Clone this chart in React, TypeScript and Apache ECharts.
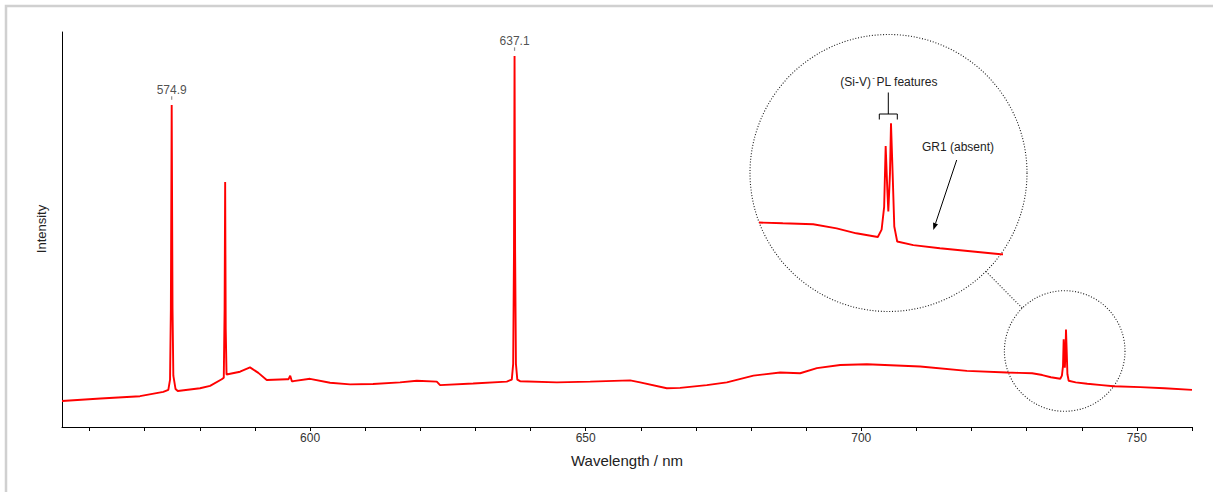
import React, { useEffect, useRef } from 'react';
import * as echarts from 'echarts';

// Spectrum (wavelength in nm, intensity in arbitrary units)
const wavelength = [
  555.0, 562.0, 569.15, 573.38, 574.29, 574.6, 574.75, 574.9, 575.05, 575.2, 575.6, 576.0,
  580.04, 581.86, 583.98, 584.35, 584.5, 584.6, 584.7, 584.85, 587.3, 589.11, 590.62, 592.14,
  595.77, 596.1, 596.4, 596.7, 596.97, 600.0, 603.63, 607.26, 611.43, 616.33, 619.36, 622.99,
  623.59, 629.58, 635.69, 636.6, 636.85, 637.0, 637.1, 637.2, 637.35, 637.6, 638.1, 644.77,
  650.81, 658.07, 659.88, 664.72, 667.14, 671.98, 675.61, 680.44, 685.28, 688.91, 691.95,
  696.18, 701.02, 710.69, 719.16, 726.42, 728.6, 731.0, 732.85, 734.4, 736.1, 736.4, 736.6,
  736.72, 736.85, 736.93, 737.06, 737.14, 737.27, 737.4, 737.63, 738.9, 741.0, 743.6, 745.8,
  750.6, 755.0, 760.0,
];
const intensity = [
  6.6, 7.2, 7.8, 8.9, 9.4, 12.0, 30.0, 81.5, 30.0, 13.0, 9.6, 9.1,
  9.8, 10.4, 12.1, 12.5, 30.0, 62.0, 25.0, 13.3, 14.0, 15.1, 13.7, 11.9,
  12.1, 12.1, 13.0, 11.6, 11.6, 12.2, 11.2, 10.8, 10.9, 11.3, 11.7, 11.5,
  10.6, 11.0, 11.5, 12.0, 16.0, 45.0, 93.9, 45.0, 16.0, 12.0, 11.6, 11.3,
  11.5, 11.8, 11.3, 9.8, 9.9, 10.6, 11.3, 13.0, 13.8, 13.6, 14.9,
  15.7, 15.9, 15.3, 14.2, 13.8, 13.7, 13.6, 13.15, 12.6, 12.2, 13.0, 15.5,
  22.2, 17.4, 15.0, 19.2, 24.7, 19.2, 13.35, 11.7, 11.3, 10.95, 10.6, 10.3,
  10.1, 9.8, 9.4,
];

const peakPositions = [574.9, 637.1];
const peakHeights = [81.5, 93.9];

const xLabelValues = [600, 650, 700, 750];
const xTickValues = [560, 570, 580, 590, 600, 610, 620, 630, 640, 650, 660, 670, 680, 690, 700, 710, 720, 730, 740, 750, 760];

const insetRange = [726.8, 745.8];
const insetYRange = [8, 28];

const FONT = 'Liberation Sans, Arial, Helvetica, sans-serif';

export default function App() {
  const ref = useRef<HTMLDivElement>(null);

  useEffect(() => {
    const chart = echarts.init(ref.current!, null, { renderer: 'svg' });
    const data = wavelength.map((w, i) => [w, intensity[i]]);
    const peaks = peakPositions.map((w, i) => [w, peakHeights[i]]);

    // arrow geometry for the GR1 annotation
    const tip = [933.3, 230];
    const start = [956.7, 160];
    const dx = tip[0] - start[0];
    const dy = tip[1] - start[1];
    const len = Math.sqrt(dx * dx + dy * dy);
    const ux = dx / len;
    const uy = dy / len;
    const headLen = 7;
    const headW = 2.6;
    const bx = tip[0] - ux * headLen;
    const by = tip[1] - uy * headLen;

    const dotted = { fill: 'none', stroke: '#1a1a1a', lineWidth: 1.1, lineDash: [1, 1.8] };

    const option: any = {
      animation: false,
      backgroundColor: '#fff',
      textStyle: { fontFamily: FONT },
      grid: [
        { left: 62, top: 32, width: 1130, height: 395 },
        { left: 760, top: 93.4, width: 240.7, height: 181.7 },
      ],
      xAxis: [
        {
          type: 'value',
          gridIndex: 0,
          min: 555,
          max: 760,
          name: 'Wavelength / nm',
          nameLocation: 'middle',
          nameGap: 26,
          nameTextStyle: { fontSize: 15, color: '#222', fontFamily: FONT },
          axisLine: { show: true, onZero: false, lineStyle: { color: '#000', width: 1 } },
          axisTick: { show: true, length: 4, customValues: xTickValues, lineStyle: { color: '#000' } },
          axisLabel: { show: true, customValues: xLabelValues, margin: 5, fontSize: 12, color: '#333', fontFamily: FONT },
          splitLine: { show: false },
        },
        {
          type: 'value',
          gridIndex: 1,
          min: insetRange[0],
          max: insetRange[1],
          show: false,
        },
      ],
      yAxis: [
        {
          type: 'value',
          gridIndex: 0,
          min: 0,
          max: 100,
          axisLine: { show: true, lineStyle: { color: '#000', width: 1 } },
          axisTick: { show: false },
          axisLabel: { show: false },
          splitLine: { show: false },
        },
        {
          type: 'value',
          gridIndex: 1,
          min: insetYRange[0],
          max: insetYRange[1],
          show: false,
        },
      ],
      series: [
        {
          type: 'line',
          xAxisIndex: 0,
          yAxisIndex: 0,
          data,
          showSymbol: false,
          clip: true,
          lineStyle: { color: '#ff0000', width: 1.9 },
          z: 3,
        },
        {
          type: 'line',
          xAxisIndex: 1,
          yAxisIndex: 1,
          data,
          showSymbol: false,
          clip: true,
          lineStyle: { color: '#ff0000', width: 1.9 },
          z: 3,
        },
        {
          type: 'scatter',
          xAxisIndex: 0,
          yAxisIndex: 0,
          data: peaks,
          symbol: 'rect',
          symbolSize: [1.2, 3.5],
          symbolOffset: [0, -7],
          itemStyle: { color: '#777' },
          z: 4,
        },
        {
          type: 'scatter',
          xAxisIndex: 0,
          yAxisIndex: 0,
          data: peaks,
          symbolSize: 0,
          itemStyle: { color: 'transparent' },
          label: {
            show: true,
            position: 'inside',
            offset: [0, -15],
            fontSize: 12,
            color: '#222',
            fontFamily: FONT,
            formatter: (p: any) => p.value[0].toFixed(1),
          },
          z: 4,
        },
      ],
      graphic: [
        {
          type: 'rect',
          silent: true,
          shape: { x: 6, y: 6, width: 1400, height: 800 },
          style: { fill: 'none', stroke: '#d0d0d0', lineWidth: 2.5 },
        },
        {
          type: 'text',
          x: 41,
          y: 229,
          rotation: Math.PI / 2,
          style: { text: 'Intensity', font: `13px ${FONT}`, fill: '#222', align: 'center', verticalAlign: 'middle' },
        },
        { type: 'circle', shape: { cx: 888.5, cy: 173, r: 138.5 }, style: dotted },
        { type: 'circle', shape: { cx: 1064.7, cy: 351, r: 60.3 }, style: dotted },
        { type: 'line', shape: { x1: 985.9, y1: 271.5, x2: 1022.3, y2: 308.1 }, style: dotted },
        {
          type: 'text',
          x: 871,
          y: 81.7,
          style: { text: '(Si-V)', font: `12px ${FONT}`, fill: '#222', align: 'right', verticalAlign: 'middle' },
        },
        {
          type: 'text',
          x: 872.3,
          y: 77.5,
          style: { text: '-', font: `8px ${FONT}`, fill: '#222', align: 'left', verticalAlign: 'middle' },
        },
        {
          type: 'text',
          x: 876.5,
          y: 81.7,
          style: { text: 'PL features', font: `12px ${FONT}`, fill: '#222', align: 'left', verticalAlign: 'middle' },
        },
        {
          type: 'line',
          shape: { x1: 888.3, y1: 92.5, x2: 888.3, y2: 114 },
          style: { stroke: '#000', lineWidth: 1 },
        },
        {
          type: 'polyline',
          shape: { points: [[879.3, 119.5], [879.3, 114], [897.3, 114], [897.3, 119.5]] },
          style: { stroke: '#000', lineWidth: 1, fill: 'none' },
        },
        {
          type: 'text',
          x: 958,
          y: 146.7,
          style: { text: 'GR1 (absent)', font: `12px ${FONT}`, fill: '#222', align: 'center', verticalAlign: 'middle' },
        },
        {
          type: 'line',
          shape: { x1: start[0], y1: start[1], x2: bx, y2: by },
          style: { stroke: '#000', lineWidth: 1 },
        },
        {
          type: 'polygon',
          shape: {
            points: [
              [tip[0], tip[1]],
              [bx - uy * headW, by + ux * headW],
              [bx + uy * headW, by - ux * headW],
            ],
          },
          style: { fill: '#000' },
        },
      ],
    };

    chart.setOption(option);
    return () => chart.dispose();
  }, []);

  return (
    <div
      ref={ref}
      style={{ position: 'fixed', left: 0, top: 0, width: 1213, height: 492, background: '#fff' }}
    />
  );
}
